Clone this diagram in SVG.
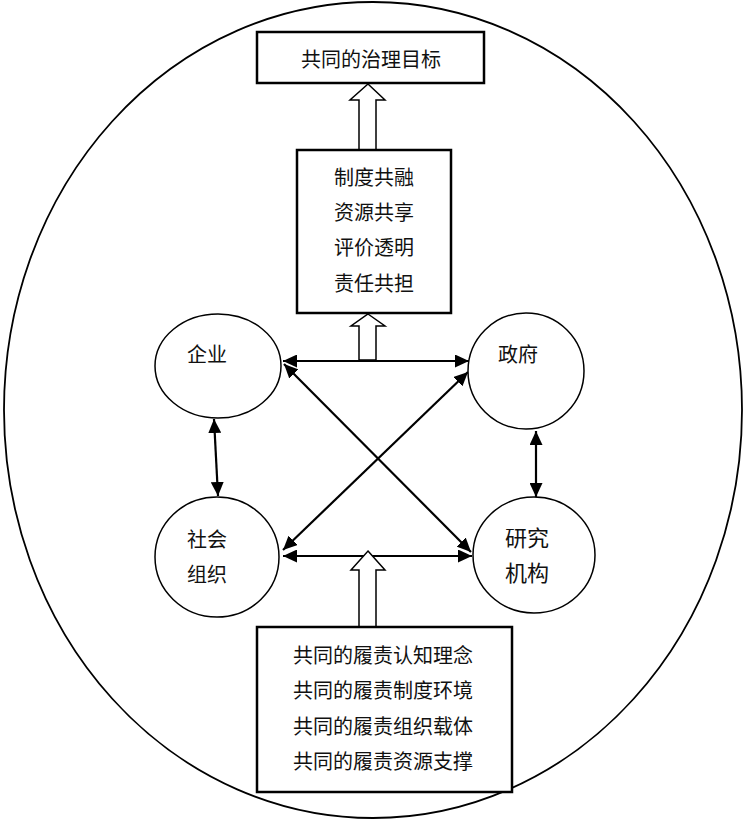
<svg xmlns="http://www.w3.org/2000/svg" width="744" height="823" viewBox="0 0 744 823">
<style>
.t{font-family:"Noto Sans CJK SC","Noto Sans",sans-serif;font-size:20px;fill:#111;text-anchor:middle}
.big{font-size:22px}
.box{fill:#fff;stroke:#000;stroke-width:2.5}
.node{fill:#fff;stroke:#000;stroke-width:1.5}
.hollow{fill:#fff;stroke:#000;stroke-width:1.5;stroke-linejoin:miter}
.con{stroke:#000;stroke-width:2.2;fill:none;marker-start:url(#ah);marker-end:url(#ah)}
</style>
<defs>
<marker id="ah" markerUnits="userSpaceOnUse" markerWidth="15" markerHeight="13" refX="14" refY="6.5" orient="auto-start-reverse" viewBox="0 0 15 13">
<path d="M0,0 L14,6.5 L0,13 z" fill="#000"/>
</marker>
</defs>
<rect width="744" height="823" fill="#fff"/>
<ellipse id="outer" cx="373" cy="410" rx="369" ry="408" fill="none" stroke="#000" stroke-width="1.8"/>

<g id="connectors">
<line class="con" x1="283" y1="361" x2="469" y2="361"/>
<line class="con" x1="283" y1="556" x2="472" y2="556"/>
<line class="con" x1="284" y1="364" x2="471" y2="552"/>
<line class="con" x1="468" y1="372" x2="283" y2="550"/>
<line class="con" x1="214" y1="419" x2="218" y2="496"/>
<line class="con" x1="536" y1="431" x2="536" y2="497"/>
<polygon class="hollow" points="368,84 385,100 376,100 376,150 359,150 359,100 350,100"/>
<polygon class="hollow" points="368,314 385,326 376,326 376,360 359,360 359,326 351,326"/>
<polygon class="hollow" points="368,551 385,570 376,570 376,627 359,627 359,570 351,570"/>
</g>

<g id="goal">
<rect class="box" x="257" y="32" width="227" height="51"/>
<text class="t" x="371" y="67">共同的治理目标</text>
</g>

<g id="mechanism">
<rect class="box" x="297" y="150" width="154" height="163"/>
<text class="t" x="374" y="185">制度共融</text>
<text class="t" x="374" y="220">资源共享</text>
<text class="t" x="374" y="255">评价透明</text>
<text class="t" x="374" y="291">责任共担</text>
</g>

<g id="enterprise">
<ellipse class="node" cx="218" cy="366" rx="63" ry="52"/>
<text class="t" x="207" y="362">企业</text>
</g>

<g id="government">
<ellipse class="node" cx="526" cy="371" rx="58" ry="58"/>
<text class="t" x="518" y="362">政府</text>
</g>

<g id="social-org">
<ellipse class="node" cx="217" cy="557" rx="62" ry="60"/>
<text class="t" x="207" y="547">社会</text>
<text class="t" x="207" y="582">组织</text>
</g>

<g id="research">
<ellipse class="node" cx="534" cy="555" rx="61" ry="58"/>
<text class="t big" x="527" y="546">研究</text>
<text class="t big" x="527" y="581">机构</text>
</g>

<g id="foundation">
<rect class="box" x="257" y="627" width="255" height="165"/>
<text class="t" x="383" y="663">共同的履责认知理念</text>
<text class="t" x="383" y="698">共同的履责制度环境</text>
<text class="t" x="383" y="734">共同的履责组织载体</text>
<text class="t" x="383" y="769">共同的履责资源支撑</text>
</g>
</svg>
